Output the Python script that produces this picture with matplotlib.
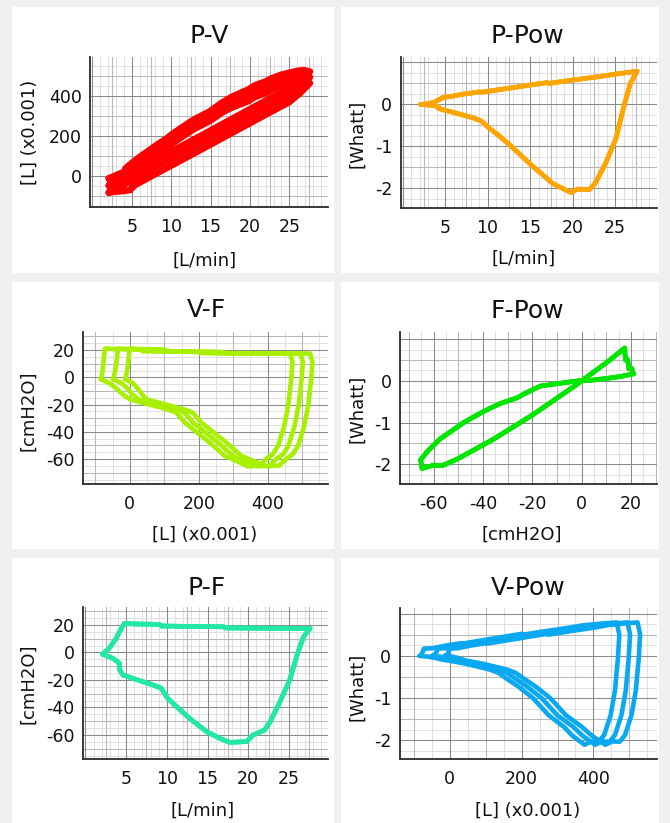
import numpy as np
import matplotlib
matplotlib.use("Agg")
import matplotlib.pyplot as plt
from matplotlib.patches import Rectangle

plt.rcParams['font.family'] = ['DejaVu Sans']
plt.rcParams['axes.unicode_minus'] = False

# ---- one breathing cycle, read from the loops ----
cycle_flow = [2.1, 2.9, 3.8, 4.2, 4.8, 5.4, 7.0, 9.1, 9.3, 12.0, 15.0, 17.0, 17.2, 20.0, 23.0, 25.0, 26.5, 27.6,
              26.8, 26.0, 25.1, 23.9, 22.7, 22.0, 20.6, 19.8, 17.7, 16.5, 14.9, 12.8, 11.2, 10.1, 9.3, 8.3,
              5.8, 4.6, 4.2, 4.2, 3.35, 2.1]                     # P  [L/min]
cycle_pressure = [-1.3, 3.0, 10.3, 15.2, 21.2, 20.8, 20.6, 20.4, 19.2, 19.0, 18.8, 18.6, 17.8, 17.7, 17.6, 17.6,
                  17.5, 17.5, 11.5, -1.8, -20.0, -35.8, -50.3, -56.4, -60.0, -64.8, -65.3, -62.4, -57.6, -47.9,
                  -39.4, -33.3, -26.0, -23.6, -18.8, -16.4, -12.7, -7.9, -4.2, -1.3]   # F [cmH2O]
cycle_power = [0.00, 0.01, 0.06, 0.10, 0.17, 0.18, 0.24, 0.30, 0.29, 0.37, 0.46, 0.52, 0.50, 0.58, 0.66, 0.72,
               0.76, 0.79, 0.50, -0.08, -0.82, -1.40, -1.87, -2.03, -2.02, -2.10, -1.89, -1.68, -1.40, -1.00,
               -0.72, -0.55, -0.40, -0.32, -0.18, -0.12, -0.09, -0.05, -0.02, 0.00]   # Pow [Whatt]
# volume of the three recorded cycles (the volume drifts from cycle to cycle)
volume_cycle1 = [-84, -80, -77, -75, -72, -47, -13, 32, 36, 93, 157, 200, 204, 264, 328, 370, 420, 465,
                 472, 468, 460, 448, 430, 415, 395, 375, 342, 318, 275, 232, 190, 160, 135, 110,
                 40, 2, -20, -40, -60, -84]
volume_cycle2 = [-49, -44, -39, -37, -34, -11, 23, 68, 72, 129, 193, 236, 240, 300, 364, 404, 452, 495,
                 502, 498, 490, 478, 460, 445, 425, 405, 370, 344, 299, 256, 214, 184, 159, 134,
                 64, 26, 8, -8, -25, -49]
volume_cycle3 = [-14, -9, -5, -3, 0, 23, 57, 102, 106, 163, 227, 270, 274, 334, 398, 436, 482, 523,
                 530, 526, 518, 506, 488, 473, 453, 433, 396, 368, 323, 280, 238, 208, 183, 158,
                 88, 50, 36, 22, 8, -14]
volume_cycles = [volume_cycle1, volume_cycle2, volume_cycle3]

titles = ["P-V", "P-Pow", "V-F", "F-Pow", "P-F", "V-Pow"]
x_keys = ["P", "P", "V", "F", "P", "V"]
y_keys = ["V", "W", "F", "W", "F", "W"]
colors = ["#ff0000", "#ffa500", "#a8f000", "#00e600", "#22e8a2", "#0aa8f0"]
axis_labels = {"P": "[L/min]", "V": "[L] (x0.001)", "F": "[cmH2O]", "W": "[Whatt]"}
tick_labels = {"P": [5, 10, 15, 20, 25], "V": [0, 200, 400], "F": [-60, -40, -20, 0, 20], "W": [-2, -1, 0]}
major_step = {"P": 5, "V": 200, "F": 20, "W": 1}

# ---- layout (pixels) ----
W, H = 670, 823
fig = plt.figure(figsize=(W / 100, H / 100), dpi=100, facecolor="#f0f0f0")

cards = [(12, 7, 334, 273), (341, 7, 659, 273),
         (12, 282, 334, 549), (341, 282, 659, 549),
         (12, 558, 334, 823), (341, 558, 659, 823)]
boxes = [(90, 57, 328, 207), (400.5, 57, 657, 208),
         (83, 331.7, 328, 484.3), (400, 331.7, 657, 484.3),
         (83, 607.3, 328, 758.7), (399.5, 608, 657, 758.7)]
xlims = [(-0.29, 29.9), (-0.24, 29.94), (-136, 575), (-73.7, 30.6), (-0.3, 29.8), (-140, 577)]
ylims = [(-157, 596), (-2.47, 1.13), (-78.5, 33.5), (-2.48, 1.18), (-77.2, 32.8), (-2.43, 1.13)]
title_pos = [(209, 43.3), (527, 43.3), (206.7, 317.3), (527.5, 317.7), (206.7, 594.7), (528, 594.7)]
xlabel_pos = [(205, 261), (524, 259), (205, 534.5), (522, 535), (203, 811), (528, 811)]
ylabel_pos = [(30, 132), (357, 134), (28, 411), (357, 409), (28, 684), (357, 687)]

for (x0, y0, x1, y1) in cards:
    fig.add_artist(Rectangle((x0 / W, 1 - y1 / H), (x1 - x0) / W, (y1 - y0) / H,
                             transform=fig.transFigure, facecolor="white", edgecolor="none", zorder=-5))


def draw_grid(ax, lo, hi, key, axis):
    step = major_step[key]
    sub = 5 if key == "P" else 4
    line = ax.axvline if axis == "x" else ax.axhline
    fine = step / sub
    for n in range(int(np.ceil(lo / fine)), int(np.floor(hi / fine)) + 1):
        line(n * fine, color="#e0e0e0", lw=0.75, zorder=0.3)
    half = step / 2
    for n in range(int(np.ceil(lo / half)), int(np.floor(hi / half)) + 1):
        if n % 2:
            line(n * half, color="#b8b8b8", lw=0.75, zorder=0.4)
    for n in range(int(np.ceil(lo / step)), int(np.floor(hi / step)) + 1):
        line(n * step, color="#8a8a8a", lw=0.75, zorder=0.5)


for i in range(6):
    x0, y0, x1, y1 = boxes[i]
    ax = fig.add_axes([x0 / W, 1 - y1 / H, (x1 - x0) / W, (y1 - y0) / H])
    ax.set_facecolor("white")
    xk, yk = x_keys[i], y_keys[i]
    ax.set_xlim(*xlims[i])
    ax.set_ylim(*ylims[i])
    draw_grid(ax, xlims[i][0], xlims[i][1], xk, "x")
    draw_grid(ax, ylims[i][0], ylims[i][1], yk, "y")

    lw = 4.8 if i == 0 else 3.3
    for vol in volume_cycles:
        data = {"P": cycle_flow, "V": vol, "F": cycle_pressure, "W": cycle_power}
        ax.plot(data[xk], data[yk], color=colors[i], lw=lw, solid_joinstyle="round",
                solid_capstyle="round", zorder=3)

    ax.set_xticks(tick_labels[xk])
    ax.set_xticklabels([str(v) for v in tick_labels[xk]])
    ax.set_yticks(tick_labels[yk])
    ax.set_yticklabels([str(v) for v in tick_labels[yk]])
    ax.tick_params(axis="x", length=0, pad=8, labelsize=12.5, labelcolor="#111111")
    ax.tick_params(axis="y", length=0, pad=6, labelsize=12.5, labelcolor="#111111")
    for s in ["top", "right"]:
        ax.spines[s].set_visible(False)
    for s in ["left", "bottom"]:
        ax.spines[s].set_color("#2a2a2a")
        ax.spines[s].set_linewidth(1.3)
        ax.spines[s].set_zorder(4)

    tx, ty = title_pos[i]
    fig.text(tx / W, 1 - ty / H, titles[i], ha="center", va="baseline", fontsize=18, color="#111111")
    lx, ly = xlabel_pos[i]
    fig.text(lx / W, 1 - ly / H, axis_labels[xk], ha="center", va="center", fontsize=13, color="#111111")
    yx, yy = ylabel_pos[i]
    fig.text(yx / W, 1 - yy / H, axis_labels[yk], ha="center", va="center", rotation=90,
             fontsize=13, color="#111111")

fig.savefig("out.png", dpi=100, facecolor=fig.get_facecolor())
